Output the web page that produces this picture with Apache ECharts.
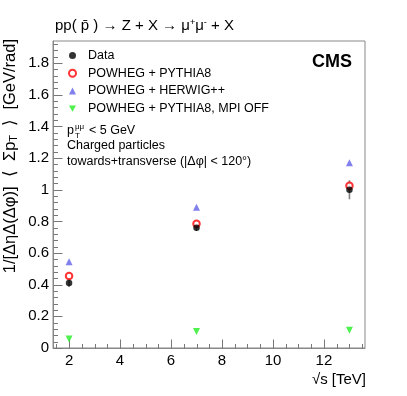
<!DOCTYPE html>
<html>
<head>
<meta charset="utf-8">
<script src="https://cdn.jsdelivr.net/npm/echarts@6/dist/echarts.min.js"></script>
<style>html,body{margin:0;padding:0;background:#fff}#c{width:407px;height:396px}</style>
</head>
<body>
<div id="c"></div>
<script>
const energies = [2, 7, 13];
const dataVals = [0.41, 0.76, 1.0];
const dataErr = [0.025, 0.02, 0.06];
const pythia8Vals = [0.455, 0.785, 1.025];
const herwigVals = [0.545, 0.89, 1.17];
const mpiOffVals = [0.057, 0.105, 0.112];
const xTickLabels = [2, 4, 6, 8, 10, 12];
const yTickLabels = [0, 0.2, 0.4, 0.6, 0.8, 1, 1.2, 1.4, 1.6, 1.8];
const seriesNames = ['Data', 'POWHEG + PYTHIA8', 'POWHEG + HERWIG++', 'POWHEG + PYTHIA8, MPI OFF'];

const X_MIN = 1.37, X_MAX = 13.61, Y_MIN = 0, Y_MAX = 1.94;
const xMinor = [];
for (let v = 1.5; v <= 13.5001; v += 0.5) { const r = Math.round(v * 10) / 10; if (xTickLabels.indexOf(r) < 0) xMinor.push(r); }
const yMinor = [];
for (let v = 0.04; v < Y_MAX; v += 0.04) { const r = Math.round(v * 100) / 100; if (Math.abs(r * 5 - Math.round(r * 5)) > 1e-6) yMinor.push(r); }

const FONT = 'Liberation Sans, Arial, Helvetica, sans-serif';
const frameColor = '#888';
const tickColor = '#777';

const chart = echarts.init(document.getElementById('c'), null, { renderer: 'canvas' });
const pts = arr => energies.map((e, i) => [e, arr[i]]);

function tickSeries(values, isX, len) {
  return {
    type: 'custom', name: 'ticks', silent: true, z: 2, clip: false,
    data: values.map(v => isX ? [v, Y_MIN] : [X_MIN, v]),
    renderItem: function (params, api) {
      const p = api.coord([api.value(0), api.value(1)]);
      const x = Math.round(p[0]) + 0.5, y = Math.round(p[1]) + 0.5;
      const shape = isX ? { x1: x, y1: y, x2: x, y2: y - len } : { x1: x, y1: y, x2: x + len, y2: y };
      return { type: 'line', shape: shape, style: { stroke: tickColor, lineWidth: 1 } };
    }
  };
}

chart.setOption({
  animation: false,
  backgroundColor: '#fff',
  textStyle: { fontFamily: FONT },
  grid: { left: 53, right: 42, top: 41, bottom: 48, show: true, borderColor: frameColor, borderWidth: 1 },
  xAxis: { type: 'value', min: X_MIN, max: X_MAX, position: 'bottom',
    axisLine: { show: true, onZero: false, lineStyle: { color: frameColor, width: 1 } },
    axisTick: { show: false },
    axisLabel: { show: true, customValues: xTickLabels, fontSize: 15, color: '#000', margin: 5, fontFamily: FONT },
    splitLine: { show: false } },
  yAxis: { type: 'value', min: Y_MIN, max: Y_MAX, interval: 0.2, position: 'left',
    axisLine: { show: true, onZero: false, lineStyle: { color: frameColor, width: 1 } },
    axisTick: { show: false },
    axisLabel: { show: true, showMaxLabel: false, fontSize: 15, color: '#000', margin: 4, fontFamily: FONT },
    splitLine: { show: false } },
  legend: {
    orient: 'vertical', left: 63, top: 43, itemWidth: 7, itemHeight: 7, itemGap: 2.7,
    data: seriesNames,
    textStyle: { fontSize: 12.5, color: '#000', lineHeight: 15, fontFamily: FONT, padding: [0, 0, 0, 7] },
    selectedMode: false
  },
  series: [
    tickSeries(xTickLabels, true, 9),
    tickSeries(xMinor, true, 4.5),
    tickSeries(yTickLabels, false, 9),
    tickSeries(yMinor, false, 4.5),
    { type: 'custom', name: 'DataErr', z: 3,
      data: energies.map((e, i) => [e, dataVals[i] - dataErr[i], dataVals[i] + dataErr[i]]),
      renderItem: function (params, api) {
        const lo = api.coord([api.value(0), api.value(1)]);
        const hi = api.coord([api.value(0), api.value(2)]);
        return { type: 'line', shape: { x1: lo[0], y1: lo[1], x2: hi[0], y2: hi[1] }, style: { stroke: '#808080', lineWidth: 1.6 } };
      } },
    { type: 'scatter', name: seriesNames[1], data: pts(pythia8Vals), symbol: 'emptyCircle', symbolSize: 6.5, z: 4,
      itemStyle: { color: '#ff0000', borderColor: '#ff0000', borderWidth: 1.1 } },
    { type: 'scatter', name: seriesNames[2], data: pts(herwigVals), symbol: 'triangle', symbolSize: 7, z: 4,
      itemStyle: { color: '#6262e8' } },
    { type: 'scatter', name: seriesNames[3], data: pts(mpiOffVals), symbol: 'path://M0,0 L10,0 L5,9 Z', symbolSize: 7, z: 4,
      itemStyle: { color: '#22ee22' } },
    { type: 'scatter', name: seriesNames[0], data: pts(dataVals), symbol: 'circle', symbolSize: 6.5, z: 5,
      itemStyle: { color: '#000' } }
  ],
  graphic: [
    { type: 'text', x: 55, y: 26, style: { text: 'pp( p̄ ) → Z + X → μ{sup|+}μ{sup|-} + X', font: '15px ' + FONT, fill: '#000', verticalAlign: 'middle',
      rich: { sup: { fontSize: 9, verticalAlign: 'top', padding: [0, 0, 6, 0] } } } },
    { type: 'text', x: 352, y: 62, style: { text: 'CMS', font: 'bold 18px ' + FONT, fill: '#000', align: 'right', verticalAlign: 'middle' } },
    { type: 'text', x: 67, y: 131, style: { text: 'p', font: '12.5px ' + FONT, fill: '#000', verticalAlign: 'middle' } },
    { type: 'text', x: 75, y: 127, style: { text: 'μμ', font: '8px ' + FONT, fill: '#000', verticalAlign: 'middle' } },
    { type: 'text', x: 75, y: 136, style: { text: 'T', font: '8px ' + FONT, fill: '#000', verticalAlign: 'middle' } },
    { type: 'text', x: 89, y: 131, style: { text: '< 5 GeV', font: '12.5px ' + FONT, fill: '#000', verticalAlign: 'middle' } },
    { type: 'text', x: 67, y: 146, style: { text: 'Charged particles', font: '12.5px ' + FONT, fill: '#000', verticalAlign: 'middle' } },
    { type: 'text', x: 67, y: 162, style: { text: 'towards+transverse (|Δφ| < 120°)', font: '12.5px ' + FONT, fill: '#000', verticalAlign: 'middle' } },
    { type: 'text', x: 366, y: 380, style: { text: '√s [TeV]', font: '15px ' + FONT, fill: '#000', align: 'right', verticalAlign: 'middle' } },
    { type: 'text', x: 10, y: 39, rotation: Math.PI / 2,
      style: { text: '1/[ΔηΔ(Δφ)]  ⟨  Σp{sub|T}  ⟩  [GeV/rad]', font: '16.5px ' + FONT, fill: '#000', align: 'right', verticalAlign: 'middle',
        rich: { sub: { fontSize: 11, verticalAlign: 'bottom', padding: [7, 0, 0, 0] } } } }
  ]
});
</script>
</body>
</html>
